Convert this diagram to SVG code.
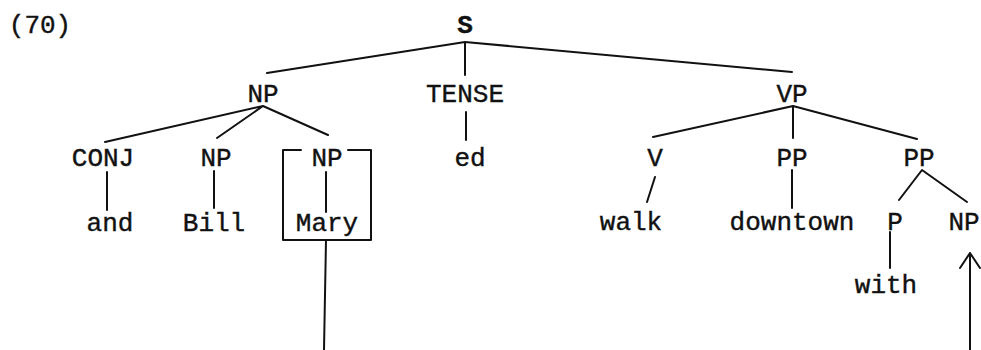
<svg xmlns="http://www.w3.org/2000/svg" width="981" height="350" viewBox="0 0 981 350">
<style>
text{font-family:"Liberation Mono","Courier New",monospace;font-size:26px;fill:#111;stroke:#111;stroke-width:0.4;text-anchor:middle}
.b{font-weight:bold}
.l{stroke:#111;stroke-width:2;fill:none;stroke-linecap:round;stroke-linejoin:round}
</style>
<rect width="981" height="350" fill="#fff"/>
<g id="label70"><text x="40" y="33">(70)</text></g>
<g id="S"><text class="b" x="465" y="33">S</text></g>
<g id="NP1"><text x="263" y="102">NP</text></g>
<g id="TENSE"><text x="465" y="102">TENSE</text></g>
<g id="VP"><text x="792" y="102">VP</text></g>
<g id="CONJ"><text x="103" y="166">CONJ</text></g>
<g id="NP2"><text x="216" y="166">NP</text></g>
<g id="NP3"><text x="327" y="166">NP</text>
<path class="l" d="M301,150 H283 V240 H371 V150 H348"/></g>
<g id="ed"><text x="470" y="166">ed</text></g>
<g id="V"><text x="655" y="166">V</text></g>
<g id="PP1"><text x="792" y="166">PP</text></g>
<g id="PP2"><text x="919" y="166">PP</text></g>
<g id="and"><text x="110" y="231">and</text></g>
<g id="Bill"><text x="214" y="231">Bill</text></g>
<g id="Mary"><text x="327" y="231">Mary</text></g>
<g id="walk"><text x="631" y="230">walk</text></g>
<g id="downtown"><text x="792" y="230">downtown</text></g>
<g id="P"><text x="895" y="230">P</text></g>
<g id="NP4"><text x="964" y="230">NP</text></g>
<g id="with"><text x="886" y="293">with</text></g>
<g id="connectors">
<path class="l" d="M267,73 L465,42 L792,72 M465,42 V75"/>
<path class="l" d="M105,142 L263,106 L328,135 M217,138 L263,106"/>
<path class="l" d="M466,112 V140"/>
<path class="l" d="M653,137 L793,106 L917,139 M793,106 V138"/>
<path class="l" d="M107,172 V210 M214,171 V208 M326,172 V212"/>
<path class="l" d="M655,177 L647,202 M792,170 V208"/>
<path class="l" d="M899,200 L922,170 L967,202 M890,232 V268"/>
<path class="l" d="M326,240 L324,350"/>
<path class="l" d="M970,350 V253 M960,268 L970,253 L980,268"/>
</g>
</svg>
